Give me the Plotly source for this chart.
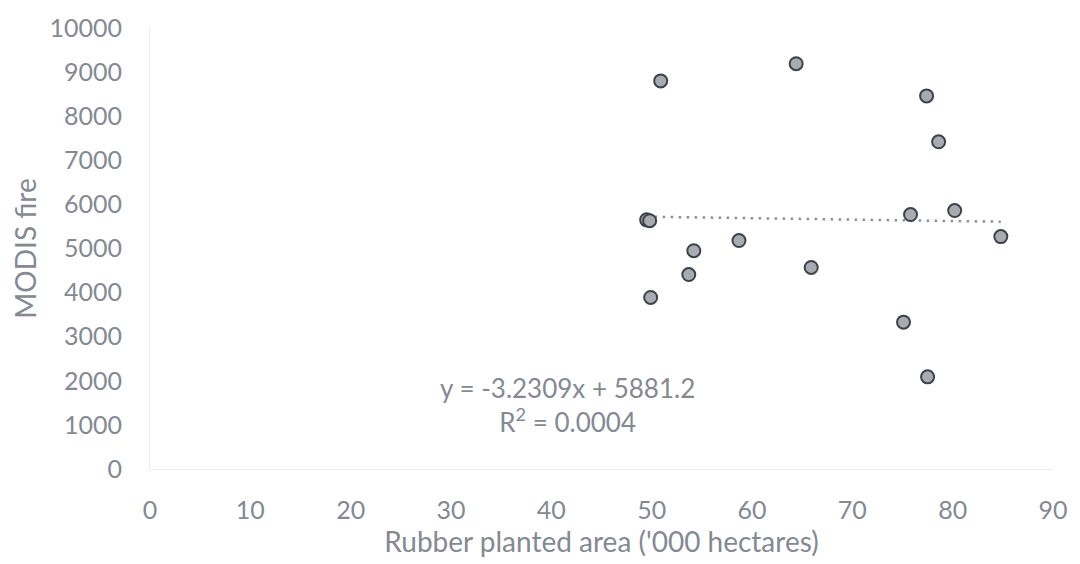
import plotly.graph_objects as go

# Rubber planted area ('000 ha) against MODIS fire counts
rubber_area = [50.9, 64.4, 77.4, 78.6, 49.5, 49.8, 75.8, 80.2, 84.8,
               58.7, 54.2, 53.7, 65.9, 49.9, 75.1, 77.5]
modis_fire = [8800, 9190, 8460, 7420, 5650, 5630, 5770, 5860, 5270,
              5180, 4950, 4410, 4570, 3890, 3330, 2090]

# Linear trend reported on the chart
slope = -3.2309
intercept = 5881.2
r_squared = "0.0004"

x_ticks = list(range(0, 91, 10))
y_ticks = list(range(0, 10001, 1000))

font_family = "Lato, 'Open Sans', sans-serif"
text_color = "#848993"

trend_x = [min(rubber_area), max(rubber_area)]
trend_y = [slope * v + intercept for v in trend_x]

fig = go.Figure()

fig.add_trace(go.Scatter(
    x=trend_x, y=trend_y, mode="lines",
    line=dict(color="#8a8f99", width=2.5, dash="2.5px,5.5px"),
    hoverinfo="skip", showlegend=False,
))

fig.add_trace(go.Scatter(
    x=rubber_area, y=modis_fire, mode="markers",
    marker=dict(size=13, color="#a7abb2",
                line=dict(color="#3e424a", width=2)),
    showlegend=False,
))

fig.add_annotation(
    x=0.4626, y=0.145, xref="paper", yref="paper",
    xanchor="center", yanchor="middle",
    text=f"y = {slope}x + {intercept}<br>R<sup>2</sup> = {r_squared}",
    showarrow=False, align="center",
    font=dict(family=font_family, size=26, color=text_color),
)

fig.update_layout(
    width=1080, height=564,
    margin=dict(l=150, r=18, t=25, b=94),
    paper_bgcolor="white", plot_bgcolor="white",
    font=dict(family=font_family, size=25, color=text_color),
)

fig.update_xaxes(
    range=[0, 90], tickvals=x_ticks, ticktext=[str(v) for v in x_ticks],
    showgrid=False, zeroline=False,
    showline=True, linecolor="#ececec", linewidth=1,
    ticks="", ticklabelstandoff=19,
    title=dict(text="Rubber planted area ('000 hectares)", standoff=8,
               font=dict(size=28, color=text_color)),
)

fig.update_yaxes(
    range=[0, 10000], tickvals=y_ticks, ticktext=[str(v) for v in y_ticks],
    showgrid=False, zeroline=False,
    showline=True, linecolor="#ececec", linewidth=1,
    ticks="", ticklabelstandoff=22,
    title=dict(text="MODIS fire", standoff=4,
               font=dict(size=28, color=text_color)),
)

fig.write_html("out.html")
